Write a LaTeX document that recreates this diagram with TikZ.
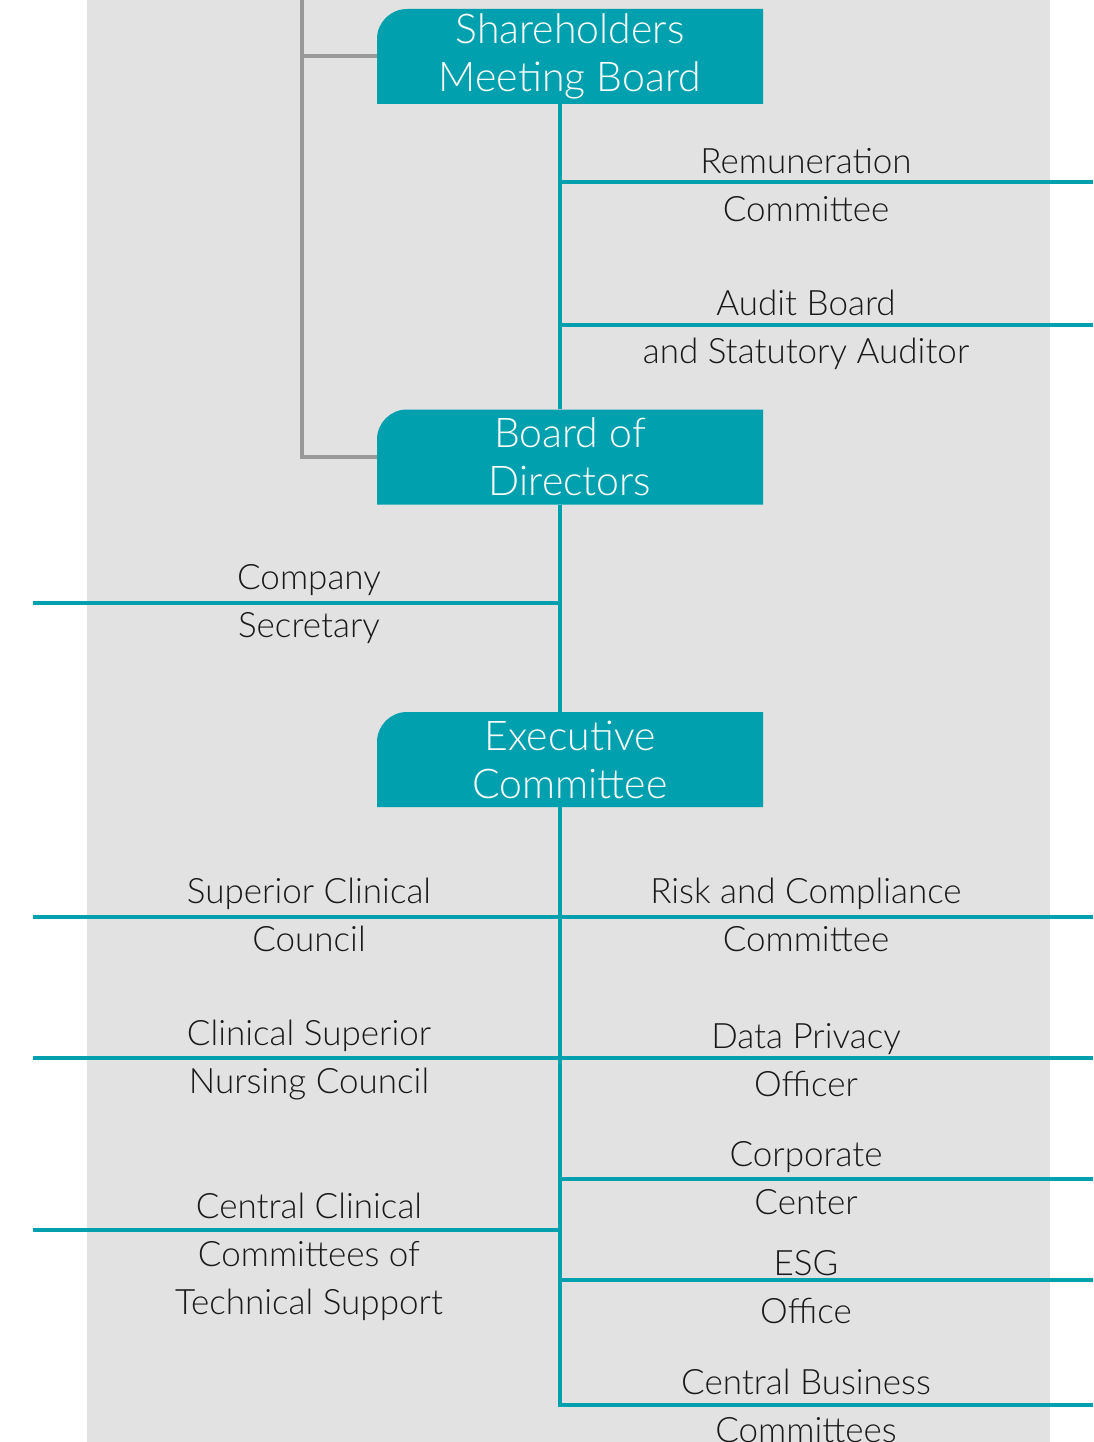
\documentclass[tikz,border=0pt]{standalone}
\usepackage{fontspec}
\setmainfont{Lato}[UprightFont=* Light]
\usetikzlibrary{positioning}
\definecolor{orgteal}{HTML}{00A0AE}
\definecolor{orgpanel}{HTML}{E2E2E2}
\definecolor{linkgrey}{HTML}{999999}

\begin{document}
\begin{tikzpicture}[x=1pt, y=-1pt,
    every node/.style={font=\fontsize{35}{48}\selectfont, text=black!90, align=center, inner sep=0pt},
    orgbox/.style={minimum width=386pt, minimum height=95pt, text=white,
      font=\fontsize{41}{48}\selectfont,
      path picture={\fill[orgteal] (path picture bounding box.south west)
        -- ([yshift=-30pt]path picture bounding box.north west)
        arc[start angle=180, end angle=90, radius=30pt]
        -- (path picture bounding box.north east)
        -- (path picture bounding box.south east) -- cycle;}},
    tealline/.style={draw=orgteal, line width=4pt},
    greyline/.style={draw=linkgrey, line width=4pt}
]
\useasboundingbox (0,0) rectangle (1093,1442);
\fill[orgpanel] (87,0) rectangle (1050,1442);

% governing bodies
\node[orgbox] (sh) at (570,56.5) {Shareholders\\Meeting Board};
\node[orgbox] (bd) at (570,457) {Board of\\Directors};
\node[orgbox] (ec) at (570,759.5) {Executive\\Committee};

% grey link between the two boards
\coordinate (gtop) at (302,0);
\draw[greyline] (gtop) |- (bd.west);
\draw[greyline] (gtop |- sh.west) -- (sh.west);

% main trunk
\coordinate (trunk) at (560,0);
\coordinate (cbc-end) at (1093,1405);
\draw[tealline] (sh.south -| trunk) -- (bd.north -| trunk);
\draw[tealline] (bd.south -| trunk) -- (ec.north -| trunk);
\draw[tealline] (ec.south -| trunk) |- (cbc-end);
\node (cbc) at (806,1406) {Central Business\\Committees};

% branches to the right
\foreach \n/\y/\ly/\txt in {rem/182/185/{Remuneration\\Committee},
    aud/325/330/{Audit Board\\and Statutory Auditor},
    risk/917/915/{Risk and Compliance\\Committee},
    dpo/1058/1060/{Data Privacy\\Officer},
    corp/1179/1178/{Corporate\\Center},
    esg/1280/1287/{ESG\\Office}}{
  \coordinate (\n-end) at (1093,\y);
  \draw[tealline] (\n-end -| trunk) -- (\n-end);
  \node (\n) at (806,\ly) {\txt};
}

% branches to the left
\foreach \n/\y/\ly/\txt in {sec/603/604/{Company\\Secretary},
    scc/917/915/{Superior Clinical\\Council},
    csn/1058/1060/{Clinical Superior\\Nursing Council},
    cct/1230/1257/{Central Clinical\\Committees of\\Technical Support}}{
  \coordinate (\n-end) at (33,\y);
  \draw[tealline] (\n-end) -- (\n-end -| trunk);
  \node (\n) at (309,\ly) {\txt};
}
\end{tikzpicture}
\end{document}
